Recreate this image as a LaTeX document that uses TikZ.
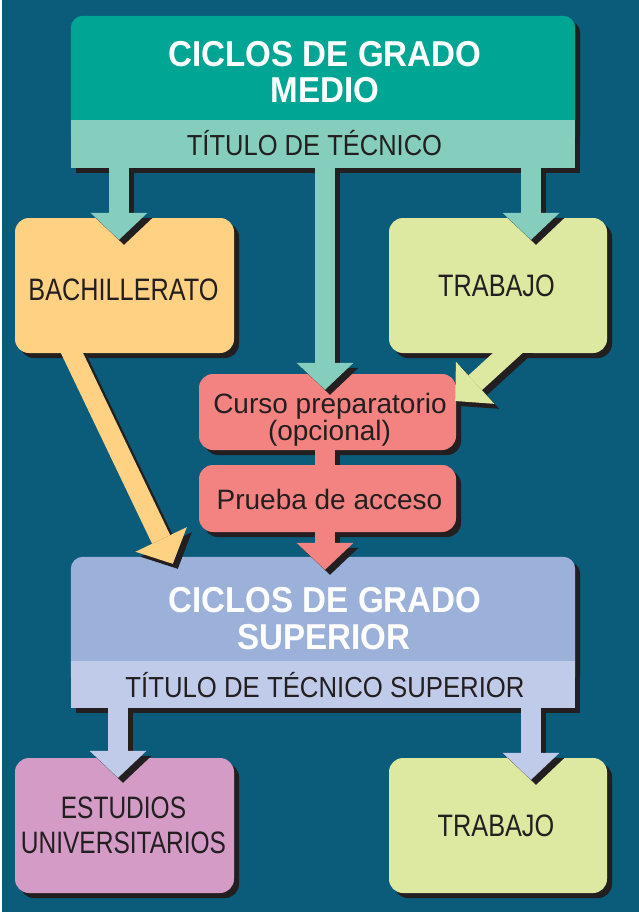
\documentclass[tikz,border=0pt]{standalone}
\usepackage{fontspec}
\usepackage{graphicx}
\setmainfont{Liberation Sans}
\usetikzlibrary{arrows.meta,calc,shadows}
\definecolor{bgc}{RGB}{11,91,122}
\definecolor{shc}{RGB}{35,31,32}
\definecolor{tealc}{RGB}{0,166,147}
\definecolor{tealband}{RGB}{133,206,190}
\definecolor{orangec}{RGB}{255,209,130}
\definecolor{greenc}{RGB}{221,232,161}
\definecolor{salmonc}{RGB}{242,131,128}
\definecolor{bluec}{RGB}{155,177,218}
\definecolor{blueband}{RGB}{191,203,233}
\definecolor{purplec}{RGB}{211,155,197}
\definecolor{txtc}{RGB}{35,31,32}
\newcommand\sx[2]{\scalebox{#1}[1]{#2}}
\newcommand\barrow[3]{\draw[blk,shc] ($(#1)+(5,5)$) -- ($(#2)+(5,5)$); \draw[blk,#3] (#1) -- (#2);}
\begin{document}
\begin{tikzpicture}[x=1pt,y=-1pt,
 blk/.style={line width=20pt,-{Triangle[length=27pt,width=57pt,line width=0pt]}},
 shbox/.style={rounded corners=14pt, inner sep=0pt, drop shadow={shadow xshift=5pt,shadow yshift=-5pt,fill=shc,opacity=1}},
 frame/.style={inner sep=0pt},
 ttl/.style={anchor=base, inner sep=0pt, text=white, font=\bfseries\fontsize{36}{36}\selectfont},
 bnd/.style={anchor=base, inner sep=0pt, text=txtc, font=\fontsize{29}{29}\selectfont},
 capt/.style={anchor=base, inner sep=0pt, text=txtc, font=\fontsize{31}{31}\selectfont},
 low/.style={anchor=base, inner sep=0pt, text=txtc, font=\fontsize{28}{28}\selectfont},
]
\fill[white] (0,0) rectangle (639,912);
\fill[bgc] (2,0) rectangle (639,912);
\useasboundingbox (0,0) rectangle (639,912);

% frames of the two composite boxes
\node[frame, minimum width=504pt, minimum height=152pt] (top) at (323,92) {};
\node[frame, minimum width=504pt, minimum height=151pt] (low) at (323,632.5) {};

% top composite
\fill[shc, rounded corners=12pt] ($(top.north west)+(5,5)$) rectangle ($(top.south east)+(5,-20)$);
\fill[shc] ($(top.south west)+(5,-40)$) rectangle ($(top.south east)+(5,5)$);
\fill[tealc, rounded corners=12pt] (top.north west) rectangle ($(top.south east)+(0,-20)$);
\fill[tealband] ($(top.south west)+(0,-48)$) rectangle (top.south east);

% lower composite
\fill[shc, rounded corners=12pt] ($(low.north west)+(5,5)$) rectangle ($(low.south east)+(5,-20)$);
\fill[shc] ($(low.south west)+(5,-40)$) rectangle ($(low.south east)+(5,5)$);
\fill[bluec, rounded corners=12pt] (low.north west) rectangle ($(low.south east)+(0,-20)$);
\fill[blueband] ($(low.south west)+(0,-47)$) rectangle (low.south east);

% boxes
\node[shbox, fill=orangec, minimum width=219pt, minimum height=135pt] (bach) at (124.5,285.5) {};
\node[shbox, fill=greenc, minimum width=218pt, minimum height=135pt] (trab1) at (498,285.5) {};
\node[shbox, fill=salmonc, minimum width=257pt, minimum height=76pt] (curso) at (327.5,412) {};
\node[shbox, fill=salmonc, minimum width=257pt, minimum height=67pt] (prueba) at (327.5,498.5) {};
\node[shbox, fill=purplec, minimum width=219pt, minimum height=135pt] (estud) at (124.5,825.5) {};
\node[shbox, fill=greenc, minimum width=218pt, minimum height=135pt] (trab2) at (498,825.5) {};

% arrow coordinates
\coordinate (xl) at (119,0);
\coordinate (xm) at (325,0);
\coordinate (xr) at (531,0);
\coordinate (xl2) at (118,0);
\coordinate (a1s) at (top.south -| xl);
\coordinate (a1n) at (bach.north -| xl);
\coordinate (a1e) at ($(a1n)+(0,22)$);
\coordinate (a2s) at (top.south -| xr);
\coordinate (a2n) at (trab1.north -| xr);
\coordinate (a2e) at ($(a2n)+(0,22)$);
\coordinate (a3s) at (top.south -| xm);
\coordinate (a3n) at (curso.north -| xm);
\coordinate (a3e) at ($(a3n)+(0,16)$);
\coordinate (c1) at (curso.south -| xm);
\coordinate (c2) at (prueba.north -| xm);
\coordinate (a4s) at (prueba.south -| xm);
\coordinate (a4n) at (low.north -| xm);
\coordinate (a4e) at ($(a4n)+(0,13)$);
\coordinate (a5s) at (low.south -| xl2);
\coordinate (a5n) at (estud.north -| xl2);
\coordinate (a5e) at ($(a5n)+(0,20)$);
\coordinate (a6s) at (low.south -| xr);
\coordinate (a6n) at (trab2.north -| xr);
\coordinate (a6e) at ($(a6n)+(0,22)$);
\coordinate (o1) at ($(bach.south west)+(51,-13)$);
\coordinate (o2) at ($(low.north west)+(102,7)$);
\coordinate (g1) at ($(trab1.south west)+(133,-13)$);
\coordinate (g2) at ($(curso.east)+(-1,-11)$);

% arrows
\barrow{a1s}{a1e}{tealband}
\barrow{a2s}{a2e}{tealband}
\barrow{a3s}{a3e}{tealband}
\draw[line width=20pt, shc] ($(c1)+(5,5)$) -- ($(c2)+(5,0)$);
\draw[line width=20pt, salmonc] (c1) -- (c2);
\barrow{a4s}{a4e}{salmonc}
\barrow{a5s}{a5e}{blueband}
\barrow{a6s}{a6e}{blueband}
\begin{scope}
\clip ($(bach.south west)+(-20,0)$) rectangle (639,912);
\barrow{o1}{o2}{orangec}
\barrow{g1}{g2}{greenc}
\end{scope}

% texts
\node[ttl] (t1a) at (325,67) {\sx{0.92}{CICLOS DE GRADO}};
\node[ttl] (t1b) at (325,103) {\sx{0.92}{MEDIO}};
\node[bnd] (b1) at (314.5,156) {\sx{0.88}{TÍTULO DE TÉCNICO}};
\node[ttl] (t2a) at (325,612) {\sx{0.92}{CICLOS DE GRADO}};
\node[ttl] (t2b) at (324,649) {\sx{0.92}{SUPERIOR}};
\node[bnd] (b2) at (325,697) {\sx{0.888}{TÍTULO DE TÉCNICO SUPERIOR}};
\node[capt] (bacht) at (123.5,300) {\sx{0.815}{BACHILLERATO}};
\node[capt] (trab1t) at (496.5,296) {\sx{0.815}{TRABAJO}};
\node[low] (cursot) at (330,413) {Curso preparatorio};
\node[low] (opct) at (329.5,440) {(opcional)};
\node[low] (pruebat) at (329.5,509) {Prueba de acceso};
\node[capt] (estudt) at (123.5,818) {\sx{0.79}{ESTUDIOS}};
\node[capt] (univt) at (123.5,853) {\sx{0.79}{UNIVERSITARIOS}};
\node[capt] (trab2t) at (496,836) {\sx{0.815}{TRABAJO}};
\end{tikzpicture}
\end{document}
